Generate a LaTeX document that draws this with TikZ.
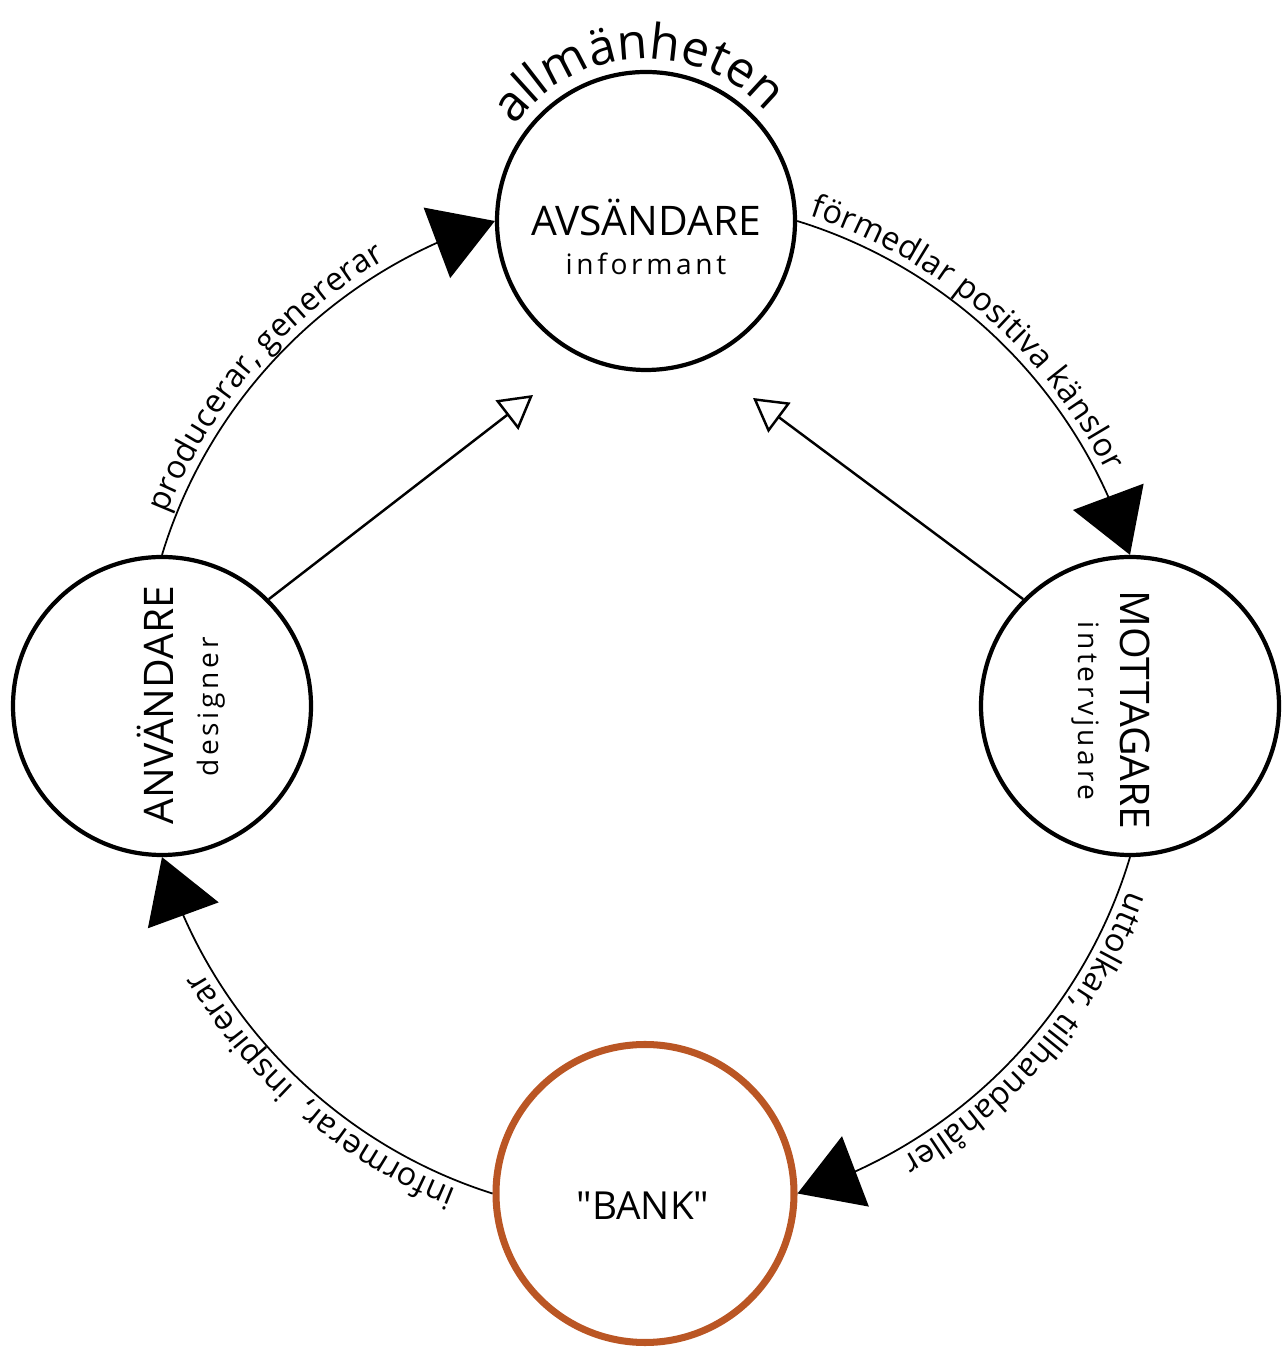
\documentclass[tikz,border=0pt]{standalone}
\usepackage{fontspec}
\setmainfont{Open Sans}
\newfontfamily\spacedfont[LetterSpace=13]{Open Sans}
\newfontfamily\plainquotes[Ligatures=TeXOff]{Open Sans}
\usetikzlibrary{arrows.meta}
\usetikzlibrary{bending}
\usetikzlibrary{decorations.text}

\definecolor{bankbrown}{RGB}{186,86,36}

\begin{document}
\begin{tikzpicture}[
    role/.style={circle, draw, line width=1.2pt, minimum size=2.98cm, inner sep=0pt},
    title/.style={font=\fontsize{11.6}{14}\selectfont, inner sep=0pt, text height=0.29cm, text depth=0pt},
    subtitle/.style={font=\spacedfont\fontsize{8}{10}\selectfont, inner sep=0pt, text height=0.2cm, text depth=0.06cm},
    flow/.style={line width=0.5pt, -{Triangle[length=0.62cm, width=0.75cm]}},
    hint/.style={line width=0.7pt, -{Triangle[open, length=0.33cm, width=0.37cm]}},
    flowtext/.style 2 args={postaction={decorate, decoration={text along path,
        text={|\fontsize{9.2}{11}\selectfont|#1}, raise=2.5pt, text align={left indent=#2}}}}
  ]
  \useasboundingbox (0,0) rectangle (12.86,13.48);

  % sender on top
  \node[role] (sender) at (6.46,11.27) {};
  \node[title] (sendertitle) at (6.46,11.27) {AVSÄNDARE};
  \node[subtitle] (senderrole) at (6.46,10.80) {informant};
  \path[decorate, decoration={text along path, text align=center,
        text={|\fontsize{14}{17}\selectfont|allmänheten}}]
    ([shift={(155:1.62)}]sender.center) arc[start angle=155, end angle=31, radius=1.62];

  % user and receiver
  \node[role] (user) at (1.62,6.42) {};
  \node[title, rotate=90] (usertitle) at (1.59,6.43) {ANVÄNDARE};
  \node[subtitle, rotate=90] (userrole) at (2.11,6.41) {designer};

  \node[role] (receiver) at (11.30,6.42) {};
  \node[title, rotate=-90] (receivertitle) at (11.35,6.38) {MOTTAGARE};
  \node[subtitle, rotate=-90] (receiverrole) at (10.85,6.37) {intervjuare};

  % the "bank"
  \node[role, draw=bankbrown, line width=2pt] (bank) at (6.45,1.545) {};
  \node[title, font=\plainquotes\fontsize{11}{13}\selectfont] (banktitle) at (6.43,1.43) {"BANK"};

  % the cycle
  \path[flow] (user.north) edge[bend left=28, looseness=0.9,
                flowtext={producerar, genererar}{0.4cm}] (sender.west);
  \path[flow] (sender.east) edge[bend left=28, looseness=0.9,
                flowtext={förmedlar positiva känslor}{0.1cm}] (receiver.north);
  \path[flow] (receiver.south) edge[bend left=28, looseness=0.9,
                flowtext={uttolkar, tillhandahåller}{0.32cm}] (bank.east);
  \path[flow] (bank.west) edge[bend left=28, looseness=0.9,
                flowtext={informerar,\ \ inspirerar}{0.35cm}] (user.south);

  % feedback to the sender
  \coordinate (usertip) at (5.33,9.53);
  \coordinate (receivertip) at (7.53,9.50);
  \path[hint] (user.45) edge (usertip);
  \path[hint] (receiver.135) edge (receivertip);
\end{tikzpicture}
\end{document}
